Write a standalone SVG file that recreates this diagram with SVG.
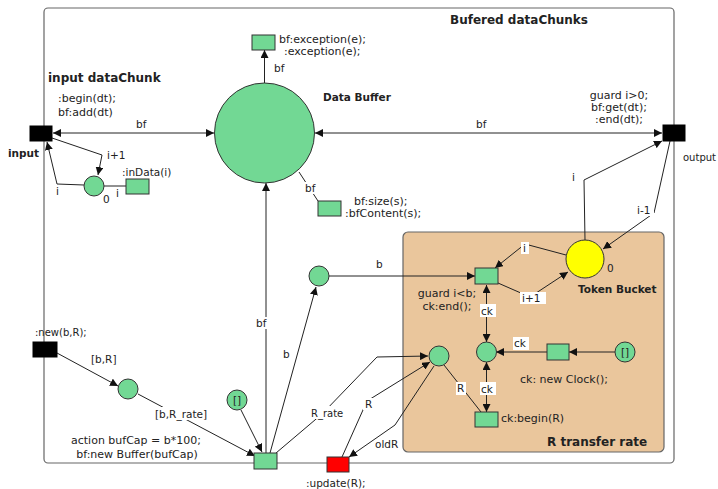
<svg xmlns="http://www.w3.org/2000/svg" width="718" height="489" viewBox="0 0 718 489">
<defs>
<marker id="a" viewBox="0 0 10 10" refX="10" refY="5" markerWidth="8" markerHeight="8" markerUnits="userSpaceOnUse" orient="auto-start-reverse"><path d="M0,0 L10,5 L0,10 z" fill="#111"/></marker>
</defs>
<style>
text{font-family:"DejaVu Sans",Verdana,sans-serif;font-size:10.5px;fill:#222}
.l{font-size:11px}
.s{font-size:10px}
.b{font-weight:bold;font-size:11px}
.pl{fill:#72D894;stroke:#333;stroke-width:1}
.tr{fill:#72D894;stroke:#333;stroke-width:1}
.bk{fill:#000;stroke:#000}
.e{fill:none;stroke:#222;stroke-width:1}
.ar{marker-end:url(#a)}
.da{marker-end:url(#a);marker-start:url(#a)}
.bg{fill:#fff}
.m{text-anchor:middle}
</style>
<rect x="44" y="8" width="630" height="455" rx="4" fill="#fff" stroke="#666" stroke-width="1.2"/>
<rect x="403" y="232" width="261" height="220" rx="5" fill="#EAC69C" stroke="#666" stroke-width="1.2"/>
<text class="b" x="450" y="24" style="font-size:12px">Bufered dataChunks</text>
<text class="b" x="48" y="82" style="font-size:12px">input dataChunk</text>
<text class="b" x="547" y="446" style="font-size:12px">R transfer rate</text>

<g id="connectors">
<path class="e da" d="M53,133 L214,133"/>
<path class="e da" d="M315,133 L662,133"/>
<path class="e ar" d="M264.5,83 L264.5,50"/>
<path class="e" d="M299,172 L318,201"/>
<path class="e ar" d="M52,138 L102,155 L98,175"/>
<path class="e ar" d="M84,185 L57,184 L47,142"/>
<path class="e" d="M104,186 L126,186"/>
<path class="e ar" d="M585,240 L584,180 L662,141"/>
<path class="e ar" d="M670,141 L654,213 L603,249"/>
<path class="e ar" d="M566,255 L525,244 L495,268"/>
<path class="e ar" d="M498,283 L530,297 L568,272"/>
<path class="e ar" d="M329,276 L475,276"/>
<path class="e da" d="M486.5,285 L486.5,342"/>
<path class="e da" d="M486.5,362 L486.5,412"/>
<path class="e ar" d="M547,352 L496,352"/>
<path class="e ar" d="M615,352 L569,352"/>
<path class="e" d="M444,365 L481,412"/>
<path class="e ar" d="M266,453 L266,183"/>
<path class="e ar" d="M270,453 L316,287"/>
<path class="e ar" d="M276,453 L322,414 L377,357 L428,356"/>
<path class="e ar" d="M342,457 L367,401 L430,362"/>
<path class="e ar" d="M434,366 L395,425 L349,457"/>
<path class="e ar" d="M241,410 L262,452"/>
<path class="e ar" d="M57,353 L118,386"/>
<path class="e ar" d="M138,394 L255,456"/>
</g>

<g id="edge-labels">
<text x="136" y="128">bf</text>
<text x="107" y="159">i+1</text>
<text x="56" y="195">i</text>
<text x="116" y="197">i</text>
<text x="274" y="72">bf</text>
<rect class="bg" x="304" y="182" width="15" height="12"/>
<text x="305" y="192">bf</text>
<text x="476" y="128">bf</text>
<text x="572" y="181">i</text>
<rect class="bg" x="635" y="204" width="19" height="12"/>
<text x="637" y="214">i-1</text>
<rect class="bg" x="521" y="242" width="8" height="12"/>
<text x="523" y="252">i</text>
<rect class="bg" x="520" y="292" width="26" height="12"/>
<text x="522" y="302">i+1</text>
<text x="376" y="268">b</text>
<rect class="bg" x="480" y="304" width="16" height="13"/>
<text x="481" y="315">ck</text>
<rect class="bg" x="513" y="337" width="16" height="13"/>
<text x="514" y="347">ck</text>
<rect class="bg" x="480" y="382" width="16" height="13"/>
<text x="481" y="393">ck</text>
<rect class="bg" x="456" y="382" width="10" height="13"/>
<text x="457" y="392">R</text>
<rect class="bg" x="255" y="317" width="15" height="12"/>
<text x="256" y="327">bf</text>
<text x="283" y="358">b</text>
<rect class="bg" x="309" y="406" width="38" height="13"/>
<text class="s" x="311" y="417">R_rate</text>
<rect class="bg" x="363" y="398" width="10" height="12"/>
<text x="365" y="408">R</text>
<text x="375" y="448">oldR</text>
<text x="91" y="363">[b,R]</text>
<rect class="bg" x="153" y="407" width="57" height="13"/>
<text x="155" y="418">[b,R_rate]</text>
</g>

<g id="input">
<rect class="bk" x="30" y="126" width="22" height="15"/>
<text class="b" x="8" y="157" style="font-size:10.5px">input</text>
<text class="l" x="58" y="102">:begin(dt);</text>
<text class="l" x="58" y="116">bf:add(dt)</text>
</g>
<g id="input-counter">
<circle class="pl" cx="94" cy="186" r="10"/>
<text x="103" y="203">0</text>
</g>
<g id="inData">
<rect class="tr" x="126" y="179" width="23" height="15"/>
<text x="122" y="176">:inData(i)</text>
</g>
<g id="data-buffer">
<circle class="pl" cx="264.5" cy="133" r="50"/>
<text class="b" x="323" y="101" style="font-size:10.5px">Data Buffer</text>
</g>
<g id="exception">
<rect class="tr" x="252" y="35" width="23" height="15"/>
<text class="l" x="279" y="43">bf:exception(e);</text>
<text class="l" x="284" y="55">:exception(e);</text>
</g>
<g id="bfContent">
<rect class="tr" x="318" y="201" width="23" height="15"/>
<text class="l" x="354" y="205">bf:size(s);</text>
<text class="l" x="345" y="217">:bfContent(s);</text>
</g>
<g id="output">
<rect class="bk" x="663" y="125" width="22" height="16"/>
<text class="s" x="683" y="161">output</text>
<text class="m l" x="619" y="99">guard i&gt;0;</text>
<text class="m l" x="619" y="111">bf:get(dt);</text>
<text class="m l" x="619" y="123">:end(dt);</text>
</g>
<g id="token-bucket">
<circle cx="585" cy="259" r="19" fill="#FFFF00" stroke="#333"/>
<text x="607" y="272">0</text>
<text class="b" x="578" y="293" style="font-size:10.5px">Token Bucket</text>
</g>
<g id="guard-transition">
<rect class="tr" x="475" y="268" width="23" height="16"/>
<text class="m l" x="447" y="297">guard i&lt;b;</text>
<text class="m l" x="447" y="310">ck:end();</text>
</g>
<g id="b-place"><circle class="pl" cx="319" cy="276" r="10"/></g>
<g id="clock-place"><circle class="pl" cx="486.5" cy="352" r="10"/></g>
<g id="new-clock">
<rect class="tr" x="547" y="344" width="22" height="16"/>
<text class="l" x="520" y="383">ck: new Clock();</text>
</g>
<g id="empty-place-clock">
<circle class="pl" cx="625" cy="352" r="10"/>
<text class="m" x="625" y="356">[]</text>
</g>
<g id="ck-begin">
<rect class="tr" x="475" y="412" width="23" height="15"/>
<text class="l" x="501" y="422">ck:begin(R)</text>
</g>
<g id="R-place"><circle class="pl" cx="439" cy="356" r="10"/></g>
<g id="new-transition">
<rect class="bk" x="33" y="342" width="24" height="15"/>
<text class="s" x="35" y="336">:new(b,R);</text>
</g>
<g id="bR-place"><circle class="pl" cx="128" cy="389" r="10"/></g>
<g id="empty-place">
<circle class="pl" cx="237" cy="400" r="10"/>
<text class="m" x="237" y="404">[]</text>
</g>
<g id="bufcap">
<rect class="tr" x="254" y="453" width="23" height="16"/>
<text class="m l" x="136" y="444">action bufCap = b*100;</text>
<text class="m l" x="137" y="458">bf:new Buffer(bufCap)</text>
</g>
<g id="update">
<rect x="327" y="457" width="22" height="15" fill="#FF0000" stroke="#333"/>
<text x="306" y="487">:update(R);</text>
</g>
</svg>
